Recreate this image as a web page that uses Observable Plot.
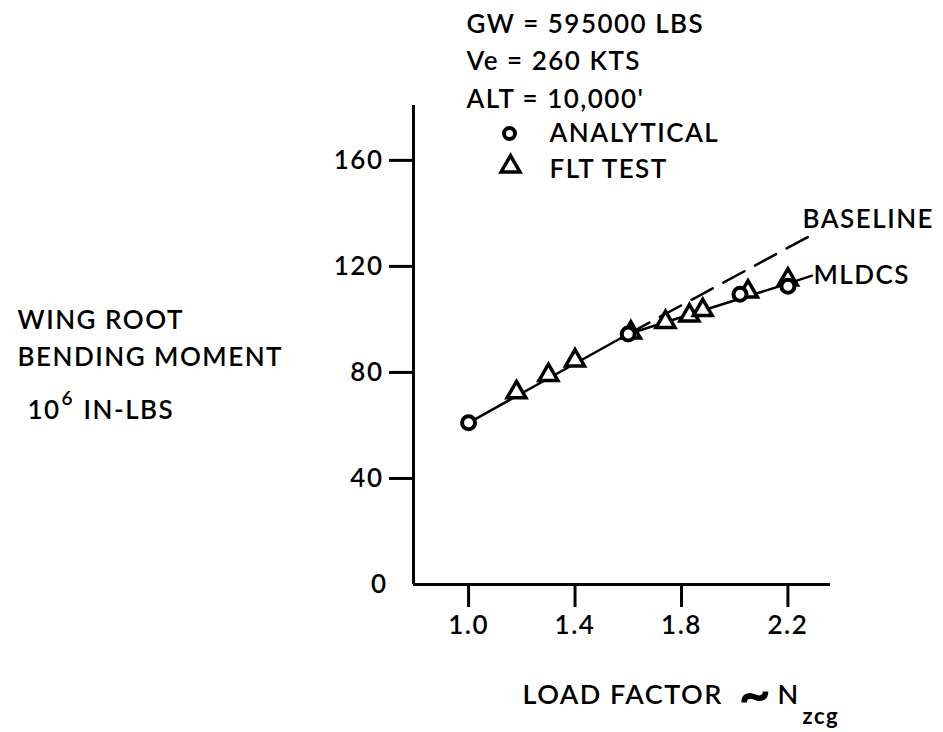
<!DOCTYPE html>
<html><head><meta charset="utf-8">
<script src="https://cdn.jsdelivr.net/npm/d3@7"></script>
<script src="https://cdn.jsdelivr.net/npm/@observablehq/plot@0.6"></script>
<style>
html,body{margin:0;padding:0;background:#fff;}
#chart svg text{letter-spacing:1.5px;}
</style></head><body><div id="chart"></div>
<script>
// Data
const analyticalX = [1.0, 1.6, 2.02, 2.2];
const analyticalY = [61, 94.5, 109.5, 112.5];
const flightX = [1.18, 1.30, 1.40, 1.61, 1.74, 1.83, 1.88, 2.05, 2.2];
const flightY = [72.5, 79, 84.5, 95, 99, 101.5, 103.5, 110.5, 115];
const mldcsX = [1.0, 1.6, 2.2, 2.29];
const mldcsY = [61, 94.5, 113.5, 116.5];
const baselineX = [1.6, 2.31];
const baselineY = [94.5, 133];
const xTicks = [1.0, 1.4, 1.8, 2.2];
const yTicks = [40, 80, 120, 160];
const xDomain = [0.793, 2.36];
const yDomain = [0, 180.7];
const headerLines = ["GW = 595000 LBS", "Ve = 260 KTS", "ALT = 10,000'"];
const legendLabels = ["ANALYTICAL", "FLT TEST"];
const yLabelLines = ["WING ROOT", "BENDING MOMENT"];
const yUnitBase = "10", yUnitExp = "6", yUnitRest = "IN-LBS";
const xLabelMain = "LOAD FACTOR", xLabelTilde = "~", xLabelVar = "N", xLabelSub = "zcg";
const seriesNames = ["BASELINE", "MLDCS"];

const zip = (xs, ys) => xs.map((x, i) => ({x, y: ys[i]}));
const analytical = zip(analyticalX, analyticalY);
const flight = zip(flightX, flightY);
const mldcs = zip(mldcsX, mldcsY);
const baseline = zip(baselineX, baselineY);

const chart = Plot.plot({
  width: 943, height: 732,
  marginLeft: 413, marginRight: 113, marginTop: 105, marginBottom: 148,
  style: {fontFamily: "Lato, 'DejaVu Sans', sans-serif", fontSize: "26px", fontWeight: "600", color: "#000", background: "#fff"},
  x: {domain: xDomain, axis: null},
  y: {domain: yDomain, axis: null},
  marks: [
    Plot.ruleX([xDomain[0]], {y1: yDomain[0], y2: yDomain[1], stroke: "#000", strokeWidth: 3}),
    Plot.ruleY([yDomain[0]], {x1: xDomain[0], x2: xDomain[1], stroke: "#000", strokeWidth: 3}),
    Plot.axisY(yTicks, {tickSize: 24, tickPadding: 6, strokeWidth: 3, label: null}),
    Plot.axisY([0], {tickSize: 0, tickPadding: 26, label: null}),
    Plot.axisX(xTicks, {tickSize: 23, tickPadding: 8, strokeWidth: 3, tickFormat: d => d.toFixed(1), label: null}),
    Plot.line(baseline, {x: "x", y: "y", stroke: "#000", strokeWidth: 2.5, strokeDasharray: "24,12"}),
    Plot.line(mldcs, {x: "x", y: "y", stroke: "#000", strokeWidth: 2.5}),
    Plot.dot(flight, {x: "x", y: "y", symbol: "triangle", r: 7, stroke: "#000", fill: "#fff", strokeWidth: 3.5}),
    Plot.dot(analytical, {x: "x", y: "y", symbol: "circle", r: 6.5, stroke: "#000", fill: "#fff", strokeWidth: 4}),
    // header
    Plot.text([headerLines.join("\n")], {frameAnchor: "top-left", dx: 53, dy: 2, textAnchor: "start", lineAnchor: "bottom", lineHeight: 1.44}),
    Plot.text([legendLabels.join("\n")], {frameAnchor: "top-left", dx: 136, dy: 72, textAnchor: "start", lineAnchor: "bottom", lineHeight: 1.35}),
    Plot.dot([legendLabels[0]], {frameAnchor: "top-left", dx: 96, dy: 28, symbol: "circle", r: 5.5, stroke: "#000", fill: "#fff", strokeWidth: 4}),
    Plot.dot([legendLabels[1]], {frameAnchor: "top-left", dx: 97, dy: 61, symbol: "triangle", r: 7, stroke: "#000", fill: "#fff", strokeWidth: 3.5}),
    // y label
    Plot.text([yLabelLines.join("\n")], {frameAnchor: "top-left", dx: -396, dy: 260, textAnchor: "start", lineAnchor: "bottom", lineHeight: 1.42}),
    Plot.text([yUnitBase], {frameAnchor: "top-left", dx: -386, dy: 313, textAnchor: "start", lineAnchor: "bottom"}),
    Plot.text([yUnitExp], {frameAnchor: "top-left", dx: -352, dy: 299, textAnchor: "start", lineAnchor: "bottom", fontSize: 19}),
    Plot.text([yUnitRest], {frameAnchor: "top-left", dx: -330, dy: 313, textAnchor: "start", lineAnchor: "bottom"}),
    // x label
    Plot.text([xLabelMain], {frameAnchor: "bottom-left", dx: 109, dy: 119, textAnchor: "start", lineAnchor: "bottom", fontSize: 27}),
    Plot.text([xLabelTilde], {frameAnchor: "bottom-left", dx: 325, dy: 128, textAnchor: "start", lineAnchor: "bottom", fontSize: 56, fontWeight: "bold"}),
    Plot.text([xLabelVar], {frameAnchor: "bottom-left", dx: 364, dy: 119, textAnchor: "start", lineAnchor: "bottom", fontSize: 27}),
    Plot.text([xLabelSub], {frameAnchor: "bottom-left", dx: 389, dy: 139, textAnchor: "start", lineAnchor: "bottom", fontSize: 22, fontWeight: "bold"}),
    // series labels
    Plot.text([seriesNames[0]], {frameAnchor: "top-left", dx: 389, dy: 122, textAnchor: "start", lineAnchor: "bottom"}),
    Plot.text([seriesNames[1]], {frameAnchor: "top-left", dx: 400, dy: 178, textAnchor: "start", lineAnchor: "bottom"})
  ]
});
document.getElementById("chart").appendChild(chart);
</script></body></html>
